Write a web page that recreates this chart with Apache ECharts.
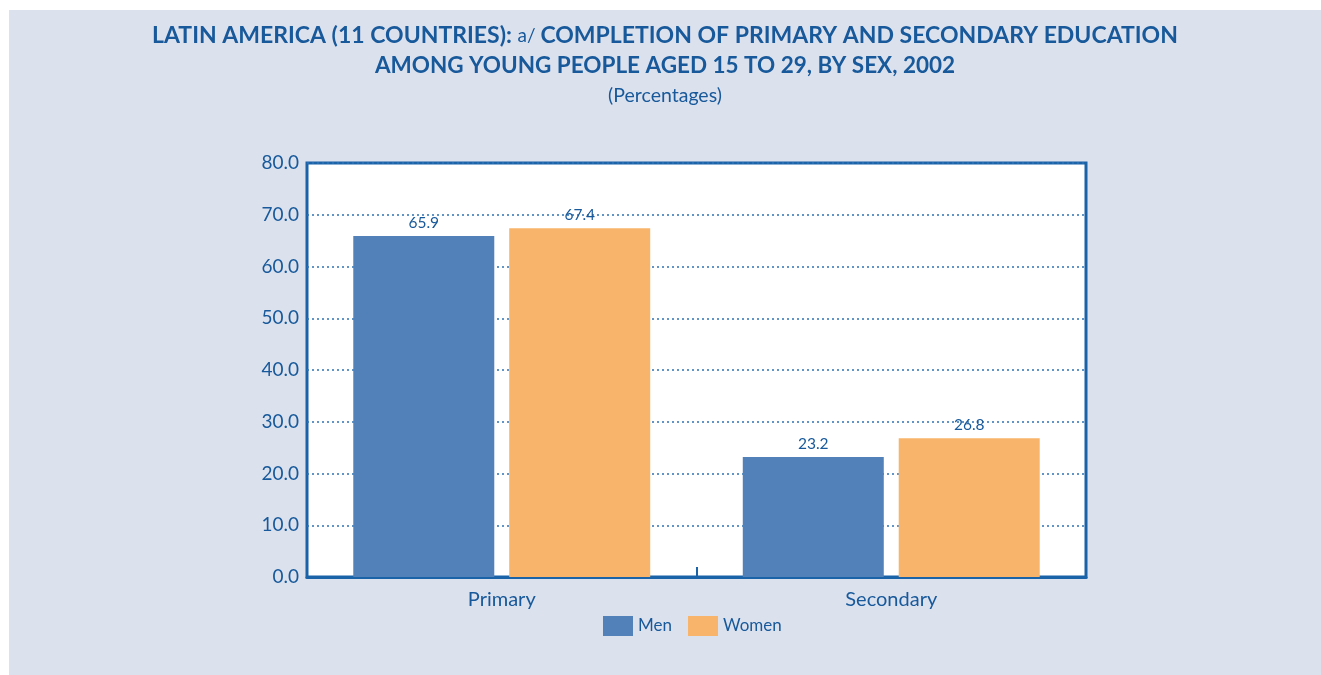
<!DOCTYPE html>
<html><head><meta charset="utf-8">
<script src="https://cdn.jsdelivr.net/npm/echarts@6/dist/echarts.min.js"></script>
<style>
html,body{margin:0;padding:0;background:#fff;width:1321px;height:675px;overflow:hidden}
#c{position:absolute;left:9px;top:10px;width:1312px;height:665px}
</style></head><body>
<div id="c"></div>
<script>
const categories = ['Primary', 'Secondary'];
const menValues = [65.9, 23.2];
const womenValues = [67.4, 26.8];
const seriesNames = ['Men', 'Women'];
const yTicks = [0, 10, 20, 30, 40, 50, 60, 70, 80];

const blue = '#17599A';
const font = 'Lato';
const chart = echarts.init(document.getElementById('c'));
chart.setOption({
  backgroundColor: '#DCE1EE',
  animation: false,
  textStyle: { fontFamily: font },
  title: [{
    left: 'center', top: 7,
    text: '{b|LATIN AMERICA (11 COUNTRIES): }{a|a/ }{b|COMPLETION OF PRIMARY AND SECONDARY EDUCATION}',
    textStyle: {
      rich: {
        b: { fontFamily: font, fontWeight: 'bold', fontSize: 23, color: blue, lineHeight: 28 },
        a: { fontFamily: font, fontWeight: 'normal', fontSize: 19, color: blue, lineHeight: 28 }
      }
    }
  }, {
    left: 'center', top: 37,
    text: 'AMONG YOUNG PEOPLE AGED 15 TO 29, BY SEX, 2002',
    textStyle: { fontFamily: font, fontWeight: 'bold', fontSize: 22.5, color: blue, lineHeight: 28 }
  }, {
    left: 'center', top: 68,
    text: '(Percentages)',
    textStyle: { fontFamily: font, fontWeight: 'normal', fontSize: 19.5, color: blue, lineHeight: 26 }
  }],
  legend: {
    left: 589, top: 601,
    itemWidth: 30, itemHeight: 20, itemGap: 16,
    icon: 'rect',
    textStyle: { color: blue, fontSize: 17, fontFamily: font },
    data: seriesNames
  },
  grid: {
    left: 298, top: 153, width: 779, height: 414,
    show: true, backgroundColor: '#fff', borderColor: '#1B63A8', borderWidth: 3
  },
  xAxis: {
    type: 'category', data: categories,
    axisLine: { show: true, lineStyle: { color: '#1B63A8', width: 3 } },
    axisTick: { show: true, inside: true, length: 10, lineStyle: { color: '#1B63A8', width: 2 } },
    axisLabel: { color: blue, fontSize: 20, margin: 13, fontFamily: font }
  },
  yAxis: {
    type: 'value', min: 0, max: 80, interval: 10,
    axisLine: { show: false },
    axisTick: { show: false },
    axisLabel: { color: blue, fontSize: 19, margin: 8, fontFamily: font,
      formatter: v => yTicks.includes(v) ? v.toFixed(1) : '' },
    splitLine: { show: true, lineStyle: { color: '#2F73B3', type: [2, 3], width: 1.5 } }
  },
  series: [{
    name: seriesNames[0], type: 'bar', data: menValues,
    barWidth: '36.2%', barGap: '10.6%',
    itemStyle: { color: '#5181B8' },
    label: { show: true, position: 'top', distance: 5, color: blue, fontSize: 15.5, fontFamily: font, formatter: p => p.value.toFixed(1) }
  }, {
    name: seriesNames[1], type: 'bar', data: womenValues,
    barWidth: '36.2%',
    itemStyle: { color: '#F8B46A' },
    label: { show: true, position: 'top', distance: 5, color: blue, fontSize: 15.5, fontFamily: font, formatter: p => p.value.toFixed(1) }
  }]
});
</script>
</body></html>
